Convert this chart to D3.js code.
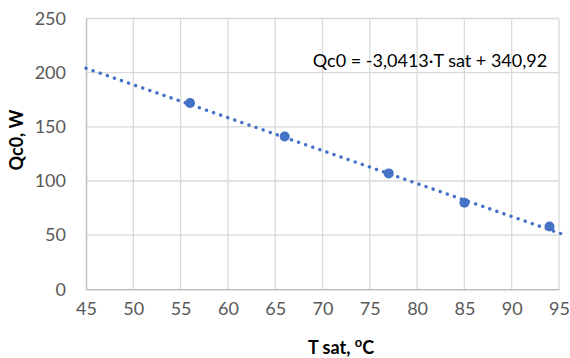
<!DOCTYPE html>
<html>
<head>
<meta charset="utf-8">
<script src="https://cdn.jsdelivr.net/npm/d3@7"></script>
<style>
  body { margin: 0; background: #fff; }
  svg text { font-family: Lato, "Open Sans", sans-serif; }
</style>
</head>
<body>
<svg id="chart" width="570" height="358"></svg>
<script>
// data
var tSat = [56, 66, 77, 85, 94];
var qc0 = [172, 141, 107, 80, 58];
var xTicks = [45, 50, 55, 60, 65, 70, 75, 80, 85, 90, 95];
var yTicks = [0, 50, 100, 150, 200, 250];
// trend line  Qc0 = -3,0413*T + 340,92
var slope = -3.0413, intercept = 340.92;
var trendX = [45, 95.3];

var svg = d3.select("#chart"),
    margin = { top: 18.5, right: 11, bottom: 68.7, left: 86 },
    width = +svg.attr("width"),
    height = +svg.attr("height");

var x = d3.scaleLinear().domain([45, 95]).range([margin.left, width - margin.right]);
var y = d3.scaleLinear().domain([0, 250]).range([height - margin.bottom, margin.top]);

// grid
svg.append("g").selectAll("line.v")
    .data(xTicks.slice(1))
    .enter().append("line")
    .attr("x1", function (d) { return x(d); })
    .attr("x2", function (d) { return x(d); })
    .attr("y1", y(0)).attr("y2", y(250))
    .attr("stroke", "#d9d9d9").attr("stroke-width", 1.3);
svg.append("g").selectAll("line.h")
    .data(yTicks.slice(1))
    .enter().append("line")
    .attr("x1", x(45)).attr("x2", x(95))
    .attr("y1", function (d) { return y(d); })
    .attr("y2", function (d) { return y(d); })
    .attr("stroke", "#d9d9d9").attr("stroke-width", 1.3);

// axes
var xAxis = svg.append("g")
    .attr("transform", "translate(0," + y(0) + ")")
    .call(d3.axisBottom(x).tickValues(xTicks).tickSize(0).tickPadding(13));
var yAxis = svg.append("g")
    .attr("transform", "translate(" + x(45) + ",0)")
    .call(d3.axisLeft(y).tickValues(yTicks).tickSize(0).tickPadding(20));
[xAxis, yAxis].forEach(function (a) {
    a.select(".domain").attr("stroke", "#bfbfbf").attr("stroke-width", 1.5);
    a.selectAll("text").attr("fill", "#595959").style("font-size", "18px");
});

// trend line
var line = d3.line()
    .x(function (d) { return x(d); })
    .y(function (d) { return y(slope * d + intercept); });
svg.append("path")
    .datum(trendX)
    .attr("d", line)
    .attr("fill", "none")
    .attr("stroke", "#4472c4")
    .attr("stroke-width", 3.4)
    .attr("stroke-linecap", "round")
    .attr("stroke-dasharray", "0.1 7.4");

// points
svg.append("g").selectAll("circle")
    .data(tSat)
    .enter().append("circle")
    .attr("cx", function (d) { return x(d); })
    .attr("cy", function (d, i) { return y(qc0[i]); })
    .attr("r", 5)
    .attr("fill", "#4472c4");

// equation
svg.append("text")
    .attr("x", 430).attr("y", 67)
    .attr("text-anchor", "middle")
    .attr("fill", "#000")
    .style("font-size", "18px")
    .text("Qc0 = -3,0413·T sat + 340,92");

// axis titles
var xt = svg.append("text")
    .attr("x", 341).attr("y", 354)
    .attr("text-anchor", "middle")
    .attr("fill", "#000")
    .style("font-size", "18px")
    .style("font-weight", "bold");
xt.append("tspan").text("T sat, ");
xt.append("tspan").attr("dy", -7).style("font-size", "13px").text("o");
xt.append("tspan").attr("dy", 7).text("C");

svg.append("text")
    .attr("transform", "translate(23," + 140 + ") rotate(-90)")
    .attr("text-anchor", "middle")
    .attr("fill", "#000")
    .style("font-size", "18px")
    .style("font-weight", "bold")
    .text("Qc0, W");
</script>
</body>
</html>
